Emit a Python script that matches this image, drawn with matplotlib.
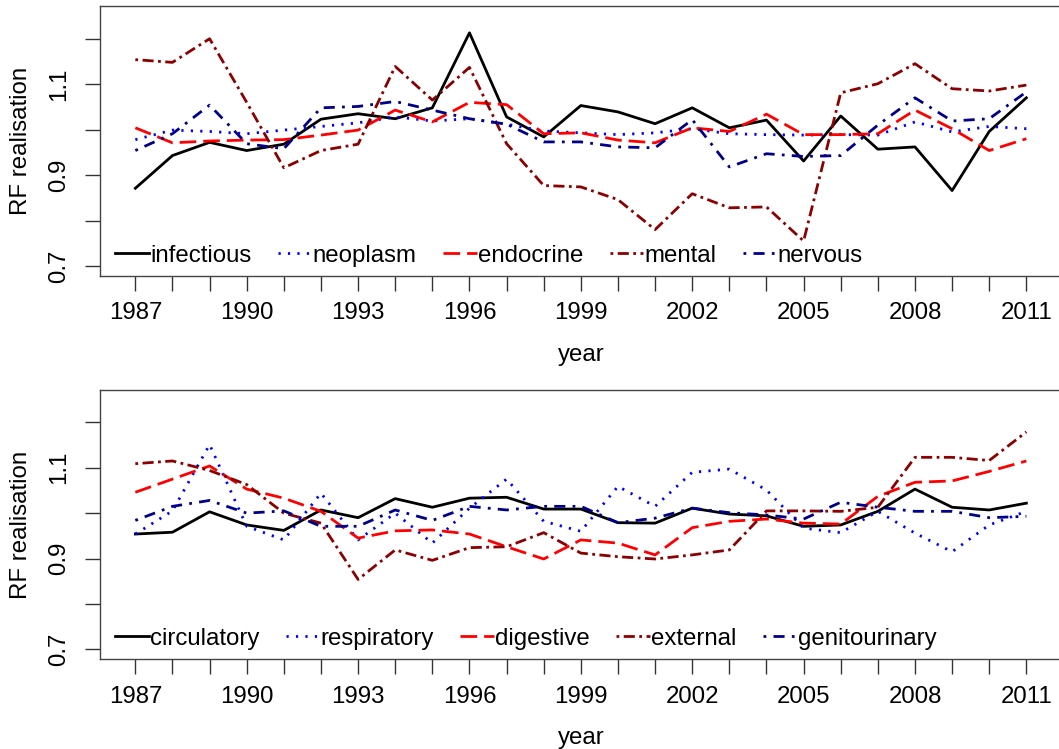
"""
RF realisation by cause of death group, 1987-2011
"""
import numpy as np
import matplotlib
matplotlib.use("Agg")
import matplotlib.pyplot as plt

years = np.arange(1987, 2012)

# top panel
infectious = [0.871, 0.943, 0.972, 0.954, 0.968, 1.023, 1.035, 1.024, 1.048, 1.213,
              1.028, 0.984, 1.053, 1.039, 1.013, 1.048, 1.004, 1.021, 0.931, 1.030,
              0.957, 0.962, 0.866, 0.996, 1.070]
neoplasm = [0.978, 0.999, 0.996, 0.991, 0.999, 1.007, 1.015, 1.028, 1.019, 1.024,
            1.012, 0.997, 0.993, 0.989, 0.993, 1.002, 0.991, 0.989, 0.988, 0.989,
            0.988, 1.017, 0.995, 1.007, 1.002]
endocrine = [1.004, 0.971, 0.975, 0.977, 0.978, 0.988, 0.999, 1.043, 1.017, 1.060,
             1.055, 0.991, 0.993, 0.977, 0.971, 1.004, 0.996, 1.034, 0.989, 0.989,
             0.991, 1.043, 1.002, 0.954, 0.980]
mental = [1.154, 1.148, 1.200, 1.060, 0.916, 0.954, 0.968, 1.139, 1.065, 1.137,
          0.969, 0.877, 0.874, 0.846, 0.780, 0.859, 0.828, 0.830, 0.755, 1.081,
          1.101, 1.145, 1.090, 1.085, 1.098]
nervous = [0.954, 0.991, 1.054, 0.969, 0.958, 1.048, 1.051, 1.062, 1.043, 1.024,
           1.012, 0.973, 0.973, 0.962, 0.960, 1.022, 0.918, 0.947, 0.941, 0.943,
           1.010, 1.070, 1.019, 1.024, 1.083]

# bottom panel
circulatory = [0.954, 0.958, 1.003, 0.974, 0.962, 1.007, 0.990, 1.032, 1.013, 1.033,
               1.035, 1.009, 1.009, 0.979, 0.978, 1.011, 0.998, 0.994, 0.971, 0.974,
               1.004, 1.053, 1.013, 1.007, 1.022]
respiratory = [0.954, 1.005, 1.151, 0.971, 0.941, 1.044, 0.941, 1.000, 0.934, 1.011,
               1.075, 0.982, 0.960, 1.059, 1.015, 1.090, 1.097, 1.051, 0.967, 0.957,
               1.004, 0.956, 0.915, 0.974, 1.004]
digestive = [1.046, 1.075, 1.104, 1.053, 1.033, 1.004, 0.945, 0.961, 0.963, 0.954,
             0.926, 0.899, 0.941, 0.934, 0.908, 0.968, 0.982, 0.987, 0.978, 0.976,
             1.037, 1.068, 1.071, 1.092, 1.115]
external = [1.109, 1.115, 1.094, 1.063, 1.000, 0.978, 0.854, 0.919, 0.896, 0.924,
            0.926, 0.957, 0.912, 0.904, 0.899, 0.908, 0.919, 1.005, 1.005, 1.004,
            1.013, 1.123, 1.123, 1.116, 1.179]
genitourinary = [0.984, 1.015, 1.028, 1.000, 1.005, 0.971, 0.971, 1.007, 0.984, 1.015,
                 1.007, 1.015, 1.015, 0.979, 0.989, 1.011, 1.001, 0.996, 0.987, 1.024,
                 1.013, 1.004, 1.004, 0.990, 0.993]

top_series = [("infectious", infectious), ("neoplasm", neoplasm),
              ("endocrine", endocrine), ("mental", mental), ("nervous", nervous)]
bottom_series = [("circulatory", circulatory), ("respiratory", respiratory),
                 ("digestive", digestive), ("external", external),
                 ("genitourinary", genitourinary)]

# R-like line types: solid, dotted, dashed, dotdash, longdash-dot
styles = [
    dict(color="black", linestyle="-"),
    dict(color="blue", linestyle=(0, (0.8, 2.6))),
    dict(color="red", linestyle=(0, (6, 2.5))),
    dict(color="#8B0000", linestyle=(0, (1, 1.6, 4, 1.6))),
    dict(color="#00008B", linestyle=(0, (1, 2.6, 4, 2.6))),
]

plt.rcParams["font.family"] = ["Liberation Sans", "DejaVu Sans"]
FS = 17.3

fig = plt.figure(figsize=(10.59, 7.49), dpi=100)
W, H = 1059.0, 749.0


def make_axes(top_px, bottom_px):
    left_px, right_px = 99.7, 1062.0
    return fig.add_axes([left_px / W, 1 - bottom_px / H,
                         (right_px - left_px) / W, (bottom_px - top_px) / H])


def draw_panel(ax, series):
    for (name, vals), st in zip(series, styles):
        ax.plot(years, vals, label=name, linewidth=2.0, **st)

    # R default 4% axis extension
    ax.set_xlim(1987 - 0.96, 2011 + 0.96)
    ax.set_ylim(0.7 - 0.022, 1.25 + 0.022)

    ax.set_xticks(years)
    ax.set_xticklabels([str(y) if (y - 1987) % 3 == 0 else "" for y in years])
    yt = [0.7, 0.8, 0.9, 1.0, 1.1, 1.2]
    ax.set_yticks(yt)
    ax.set_yticklabels(["0.7", "", "0.9", "", "1.1", ""], rotation=90, va="center")

    ax.tick_params(axis="both", direction="out", length=11, width=1.0,
                   color="#333333", labelsize=FS)
    ax.tick_params(axis="x", pad=8)
    ax.tick_params(axis="y", pad=10)
    for sp in ax.spines.values():
        sp.set_color("#444444")
        sp.set_linewidth(1.0)

    ax.set_xlabel("year", fontsize=FS, labelpad=14)
    ax.set_ylabel("RF realisation", fontsize=FS, labelpad=12)

    ax.legend(loc="lower left", bbox_to_anchor=(0.016, 0.035), ncol=5,
              frameon=False, fontsize=FS, handlelength=1.4, handletextpad=0.05,
              columnspacing=1.1, borderpad=0, borderaxespad=0)


ax1 = make_axes(6.0, 276.0)
draw_panel(ax1, top_series)

ax2 = make_axes(389.7, 659.3)
draw_panel(ax2, bottom_series)

fig.savefig("out.png", dpi=100)
